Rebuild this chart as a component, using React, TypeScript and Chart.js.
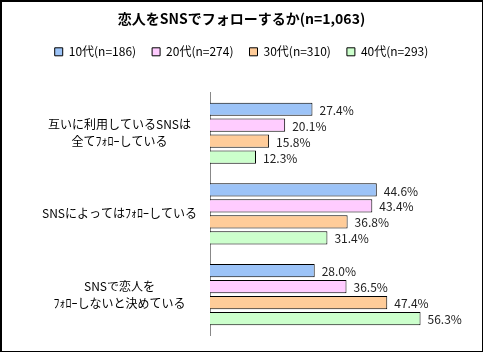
import React, { useEffect, useRef } from "react";
import { Chart, registerables } from "chart.js";

Chart.register(...registerables);

const TITLE = "恋人をSNSでフォローするか(n=1,063)";
const categories: (string | string[])[] = [
  ["互いに利用しているSNSは", "全てﾌｫﾛｰしている"],
  "SNSによってはﾌｫﾛｰしている",
  ["SNSで恋人を", "ﾌｫﾛｰしないと決めている"],
];
const seriesNames = ["10代(n=186)", "20代(n=274)", "30代(n=310)", "40代(n=293)"];
const teens = [27.4, 44.6, 28.0];
const twenties = [20.1, 43.4, 36.5];
const thirties = [15.8, 36.8, 47.4];
const forties = [12.3, 31.4, 56.3];
const seriesColors = ["#9CC3F7", "#FFCCFF", "#FFCC99", "#CCFFCC"];

const FONT = "'Noto Sans CJK JP', 'Noto Sans', sans-serif";

const valueLabels = {
  id: "valueLabels",
  afterDatasetsDraw(chart: any) {
    const ctx = chart.ctx;
    ctx.save();
    ctx.font = `12px ${FONT}`;
    ctx.fillStyle = "#222";
    ctx.textAlign = "left";
    ctx.textBaseline = "middle";
    chart.data.datasets.forEach((ds: any, i: number) => {
      const meta = chart.getDatasetMeta(i);
      meta.data.forEach((bar: any, j: number) => {
        ctx.fillText(ds.data[j].toFixed(1) + "%", bar.x + 7, bar.y + 1);
      });
    });
    ctx.restore();
  },
};

export default function App() {
  const ref = useRef<HTMLCanvasElement>(null);
  useEffect(() => {
    document.body.style.margin = "0";
    const values = [teens, twenties, thirties, forties];
    const chart = new Chart(ref.current!, {
      type: "bar",
      data: {
        labels: categories,
        datasets: seriesNames.map((name, i) => ({
          label: name,
          data: values[i],
          backgroundColor: seriesColors[i],
          borderColor: "#000",
          borderWidth: 1,
          categoryPercentage: 0.79,
          barPercentage: 0.83,
        })),
      },
      options: {
        indexAxis: "y",
        animation: false,
        responsive: false,
        layout: { padding: { left: 0, right: 0, top: 0, bottom: 17 } },
        plugins: {
          title: {
            display: true,
            text: TITLE,
            color: "#000",
            font: { family: FONT, size: 14, weight: "bold" },
            padding: { top: 10.6, bottom: 2.4 },
          },
          legend: {
            display: true,
            position: "top",
            labels: {
              color: "#000",
              font: { family: FONT, size: 12 },
              boxWidth: 8,
              boxHeight: 8,
              padding: 16,
            },
          },
          tooltip: { enabled: false },
        },
        scales: {
          x: {
            position: "top",
            min: 0,
            max: 73,
            grid: { display: false },
            border: { display: false },
            ticks: { display: false },
            afterFit: (s: any) => {
              s.height = 25;
            },
          },
          y: {
            grid: { display: false, drawTicks: false },
            border: { display: true, color: "#888", width: 1 },
            ticks: {
              color: "#000",
              crossAlign: "center",
              padding: 13,
              font: { family: FONT, size: 12, lineHeight: 1.4 },
            },
            afterFit: (s: any) => {
              s.width = 210;
              s.paddingTop = 0;
              s.paddingBottom = 0;
            },
          },
        },
      },
      plugins: [valueLabels],
    });
    return () => chart.destroy();
  }, []);
  return (
    <div style={{ position: "fixed", left: 0, top: 0, width: 486, height: 353, background: "#fff" }}>
      <canvas ref={ref} width={483} height={352} style={{ position: "absolute", left: 0, top: 0 }} />
      <div
        style={{
          position: "absolute",
          left: 0,
          top: 0,
          width: 483,
          height: 352,
          boxSizing: "border-box",
          borderTop: "2px solid #000",
          borderLeft: "2px solid #000",
          borderRight: "1px solid #000",
          borderBottom: "1px solid #000",
          pointerEvents: "none",
        }}
      />
    </div>
  );
}
